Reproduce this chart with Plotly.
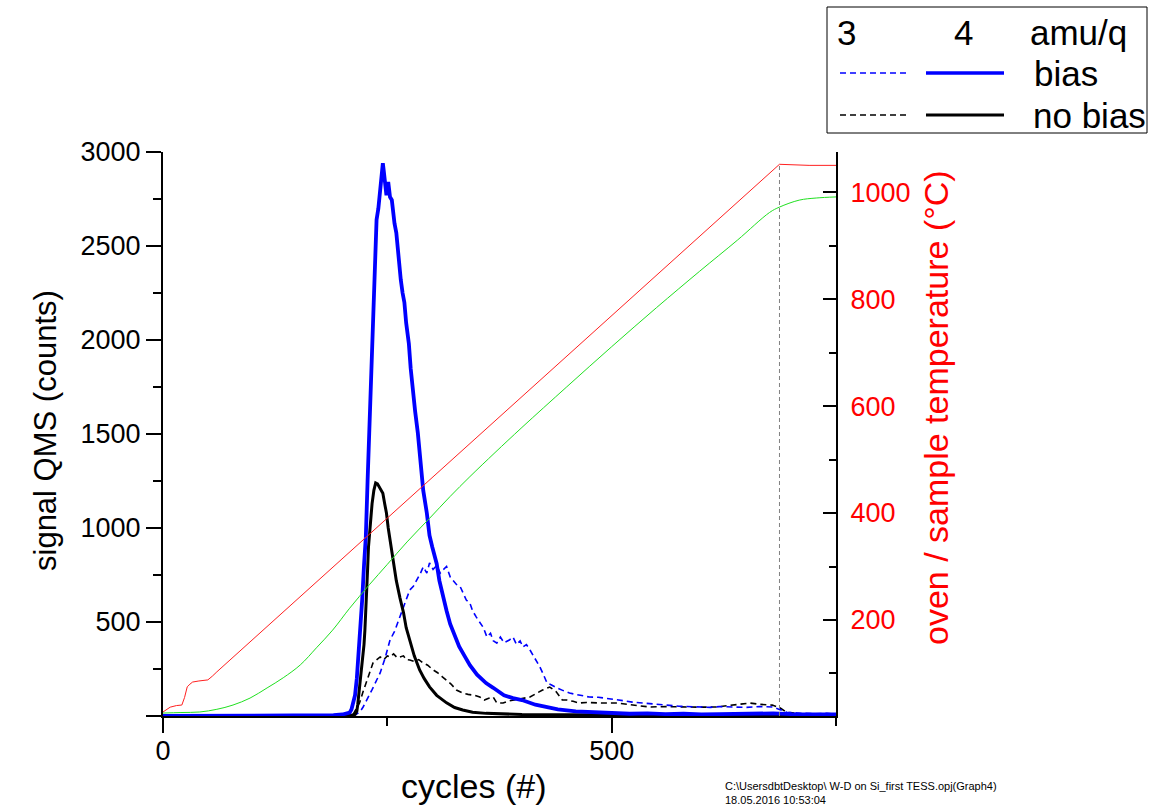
import plotly.graph_objects as go

# ---------------- data ----------------
# amu 4, bias (blue solid)
cyc_b4 = [0, 50, 100, 150, 190, 200, 205, 208, 210, 212, 214, 216, 218, 220, 222, 224, 226, 228, 230, 232,
          234, 236, 237, 238, 240, 242, 244, 245, 246, 247, 248, 249, 250, 251, 252, 253, 255, 256, 258, 260,
          262, 265, 267, 269, 271, 274, 276, 278, 281, 284, 287, 290, 294, 297, 300, 305, 308, 312, 316, 320,
          323, 330, 336, 342, 350, 360, 368, 380, 390, 400, 415, 428, 440, 460, 480, 500, 520, 540, 560, 580,
          600, 620, 640, 660, 680, 700, 720, 740, 750]
sig_b4 = [0, 0, 0, 2, 4, 8, 12, 18, 35, 70, 110, 200, 330, 480, 620, 800, 950, 1250, 1550, 1850,
          2150, 2450, 2550, 2640, 2700, 2780, 2870, 2940, 2900, 2850, 2790, 2770, 2800, 2840, 2800, 2760, 2745, 2700, 2620, 2570,
          2450, 2320, 2250, 2200, 2090, 1980, 1850, 1735, 1620, 1505, 1330, 1200, 1080, 960, 900, 810, 720, 630, 560, 490,
          455, 370, 320, 270, 220, 175, 150, 110, 95, 85, 60, 48, 35, 25, 20, 15, 12, 14, 10, 12,
          8, 10, 12, 9, 14, 10, 8, 10, 9]

# amu 4, no bias (black solid)
cyc_n4 = [0, 100, 200, 210, 214, 216, 217, 219, 222, 224, 225, 226, 227, 228, 229, 231, 233, 235, 237, 239,
          241, 243, 245, 247, 249, 251, 253, 256, 260, 264, 268, 271, 275, 280, 286, 291, 297, 305, 316, 325,
          334, 345, 360, 380, 400, 450, 500, 550, 600, 650, 700, 750]
sig_n4 = [0, 0, 2, 4, 8, 25, 60, 150, 280, 380, 457, 550, 633, 780, 900, 1020, 1130, 1200, 1240, 1235,
          1220, 1200, 1185, 1130, 1080, 1000, 940, 830, 720, 630, 550, 470, 400, 320, 245, 200, 155, 110, 70, 45,
          32, 20, 14, 10, 8, 6, 5, 6, 5, 6, 5, 5]

# amu 3, bias (blue dashed)
cyc_b3 = [0, 100, 200, 215, 220, 223, 228, 233, 238, 242, 247, 253, 258, 264, 270, 275, 279, 283, 287, 290,
          294, 297, 301, 305, 309, 312, 316, 320, 323, 327, 331, 335, 338, 342, 345, 349, 353, 357, 361, 365,
          368, 372, 376, 380, 386, 390, 394, 398, 401, 405, 409, 413, 417, 420, 424, 428, 433, 439, 446, 453,
          460, 468, 475, 485, 495, 506, 515, 523, 535, 545, 561, 575, 590, 598, 610, 620, 635, 650, 665, 679,
          687, 695, 710, 725, 740, 750]
sig_b3 = [0, 0, 2, 8, 25, 48, 90, 140, 190, 229, 300, 404, 450, 527, 600, 670, 690, 723, 760, 793,
          760, 814, 780, 800, 760, 777, 795, 740, 723, 700, 690, 650, 617, 600, 560, 527, 500, 470, 420, 440,
          400, 388, 420, 390, 404, 420, 380, 400, 367, 380, 351, 320, 290, 261, 220, 175, 165, 149, 135, 122,
          115, 108, 101, 100, 92, 85, 80, 74, 68, 62, 58, 52, 50, 48, 46, 50, 48, 46, 50, 48,
          35, 20, 15, 12, 14, 10]

# amu 3, no bias (black dashed)
cyc_n3 = [0, 100, 200, 212, 219, 223, 227, 231, 234, 238, 242, 246, 250, 253, 257, 261, 264, 268, 271, 275,
          280, 285, 290, 295, 301, 306, 311, 316, 321, 327, 331, 334, 340, 347, 353, 358, 363, 368, 372, 379,
          385, 390, 400, 409, 416, 423, 431, 438, 445, 450, 457, 464, 472, 480, 490, 506, 520, 530, 542, 560,
          579, 600, 617, 630, 642, 654, 665, 679, 687, 695, 710, 725, 740, 750]
sig_n3 = [0, 0, 2, 10, 69, 130, 191, 240, 282, 300, 314, 300, 320, 314, 330, 310, 314, 320, 300, 298,
          290, 300, 282, 270, 245, 230, 210, 191, 170, 138, 130, 122, 115, 110, 101, 85, 95, 101, 69, 69,
          80, 85, 95, 101, 120, 138, 154, 130, 85, 85, 78, 69, 72, 70, 69, 69, 60, 55, 48, 50,
          48, 47, 48, 55, 62, 69, 62, 58, 45, 20, 12, 10, 12, 10]

# oven temperature (red)
cyc_oven = [0, 8, 15, 21, 24, 27, 30, 33, 40, 50, 55, 60, 687, 700, 720, 750]
t_oven = [28, 37, 40, 41, 55, 75, 80, 84, 86, 88, 95, 103, 1052, 1051, 1050, 1050]

# sample temperature (green)
cyc_samp = [0, 20, 41, 60, 78, 97, 116, 134, 153, 171, 189, 208, 230, 250, 272, 297, 320, 342, 370, 400,
            450, 500, 550, 598, 640, 676, 687, 709, 728, 750]
t_samp = [26, 27, 28, 33, 41, 54, 73, 92, 116, 148, 181, 222, 266, 304, 346, 390, 431, 468, 513, 560,
          636, 711, 784, 852, 910, 962, 972, 985, 989, 991]

ramp_end = 687
left_ticks = [0, 500, 1000, 1500, 2000, 2500, 3000]
left_labels = ["", "500", "1000", "1500", "2000", "2500", "3000"]
right_ticks = [200, 400, 600, 800, 1000]
x_ticks = [0, 500]

# ---------------- figure ----------------
W, H = 1151, 807
L, R, T, B = 163, 836, 152, 716
FONT = "Arial, Liberation Sans, sans-serif"

def px(x):
    return (x - L) / (R - L)

def py(y):
    return (B - y) / (B - T)

fig = go.Figure()
fig.add_trace(go.Scatter(x=cyc_oven, y=t_oven, yaxis="y2", mode="lines",
                         line=dict(color="#ff2020", width=1), showlegend=False))
fig.add_trace(go.Scatter(x=cyc_samp, y=t_samp, yaxis="y2", mode="lines", line_shape="spline",
                         line=dict(color="#20e020", width=1), showlegend=False))
fig.add_trace(go.Scatter(x=cyc_n3, y=sig_n3, mode="lines",
                         line=dict(color="black", width=1.6, dash="6px,4px"), showlegend=False))
fig.add_trace(go.Scatter(x=cyc_b3, y=sig_b3, mode="lines",
                         line=dict(color="#0000ff", width=1.6, dash="6px,4px"), showlegend=False))
fig.add_trace(go.Scatter(x=cyc_n4, y=sig_n4, mode="lines",
                         line=dict(color="black", width=3), showlegend=False))
fig.add_trace(go.Scatter(x=cyc_b4, y=sig_b4, mode="lines",
                         line=dict(color="#0000ff", width=3.8), showlegend=False))

tickfont = dict(family=FONT, size=27, color="black")

fig.update_layout(
    width=W, height=H,
    margin=dict(l=L, r=W - R, t=T, b=H - B),
    paper_bgcolor="white", plot_bgcolor="white",
    font=dict(family=FONT),
    xaxis=dict(range=[0, 750], tickvals=x_ticks, ticktext=[str(v) for v in x_ticks],
               showgrid=False, zeroline=False, showline=True, linecolor="black", linewidth=2,
               ticks="outside", ticklen=15, tickwidth=2, tickcolor="black", ticklabelstandoff=-5,
               minor=dict(dtick=250, tick0=0, ticks="outside", ticklen=8, tickwidth=2, tickcolor="black"),
               tickfont=tickfont),
    yaxis=dict(range=[0, 3000], tickvals=left_ticks, ticktext=left_labels,
               showgrid=False, zeroline=False, showline=True, linecolor="black", linewidth=2,
               ticks="outside", ticklen=15, tickwidth=2, tickcolor="black",
               minor=dict(dtick=250, tick0=0, ticks="outside", ticklen=8, tickwidth=2, tickcolor="black"),
               tickfont=tickfont),
    yaxis2=dict(range=[20.5, 1075], overlaying="y", side="right", anchor="x",
                tickvals=right_ticks, ticktext=[str(v) for v in right_ticks],
                showgrid=False, zeroline=False, showline=True, linecolor="black", linewidth=2,
                ticks="inside", ticklen=13, tickwidth=2, tickcolor="black", ticklabelstandoff=7,
                minor=dict(dtick=100, tick0=0, ticks="inside", ticklen=7, tickwidth=2, tickcolor="black"),
                tickfont=dict(family=FONT, size=27, color="red")),
)

# vertical dashed marker at end of ramp
fig.add_shape(type="line", xref="x", yref="y2", x0=ramp_end, x1=ramp_end, y0=20.5, y1=1052,
              line=dict(color="#808080", width=1, dash="4px,3px"))

def note(text, x, y, size, color="black", xanchor="center", angle=0):
    fig.add_annotation(text=text, xref="paper", yref="paper", x=px(x), y=py(y),
                       xanchor=xanchor, yanchor="middle", showarrow=False, textangle=angle,
                       font=dict(family=FONT, size=size, color=color))

# axis titles
note("signal QMS (counts)", 45, 431, 31, angle=-90)
note("oven / sample temperature (°C)", 936, 408, 34, color="red", angle=-90)
note("cycles (#)", 473, 786, 34)

# legend box
fig.add_shape(type="rect", xref="paper", yref="paper", x0=px(827), x1=px(1147), y0=py(133), y1=py(7),
              line=dict(color="black", width=1), fillcolor="white")
fig.add_shape(type="line", xref="paper", yref="paper", x0=px(840), x1=px(910), y0=py(73), y1=py(73),
              line=dict(color="#0000ff", width=1.6, dash="6px,4px"))
fig.add_shape(type="line", xref="paper", yref="paper", x0=px(926), x1=px(1004), y0=py(73), y1=py(73),
              line=dict(color="#0000ff", width=3.5))
fig.add_shape(type="line", xref="paper", yref="paper", x0=px(840), x1=px(910), y0=py(115), y1=py(115),
              line=dict(color="black", width=1.6, dash="6px,4px"))
fig.add_shape(type="line", xref="paper", yref="paper", x0=px(926), x1=px(1004), y0=py(115), y1=py(115),
              line=dict(color="black", width=3))
note("3", 846, 33, 35)
note("4", 963, 33, 35)
note("amu/q", 1028, 33, 35, xanchor="left")
note("bias", 1032, 73, 35, xanchor="left")
note("no bias", 1031, 115, 35, xanchor="left")

# footer
note("C:\\UsersdbtDesktop\\ W-D on Si_first TESS.opj(Graph4)", 723, 786, 11, xanchor="left")
note("18.05.2016 10:53:04", 723, 800, 11, xanchor="left")

fig.write_html("out.html", config={"displayModeBar": False},
               post_script="document.body.style.margin='0';document.body.style.overflow='hidden';")
